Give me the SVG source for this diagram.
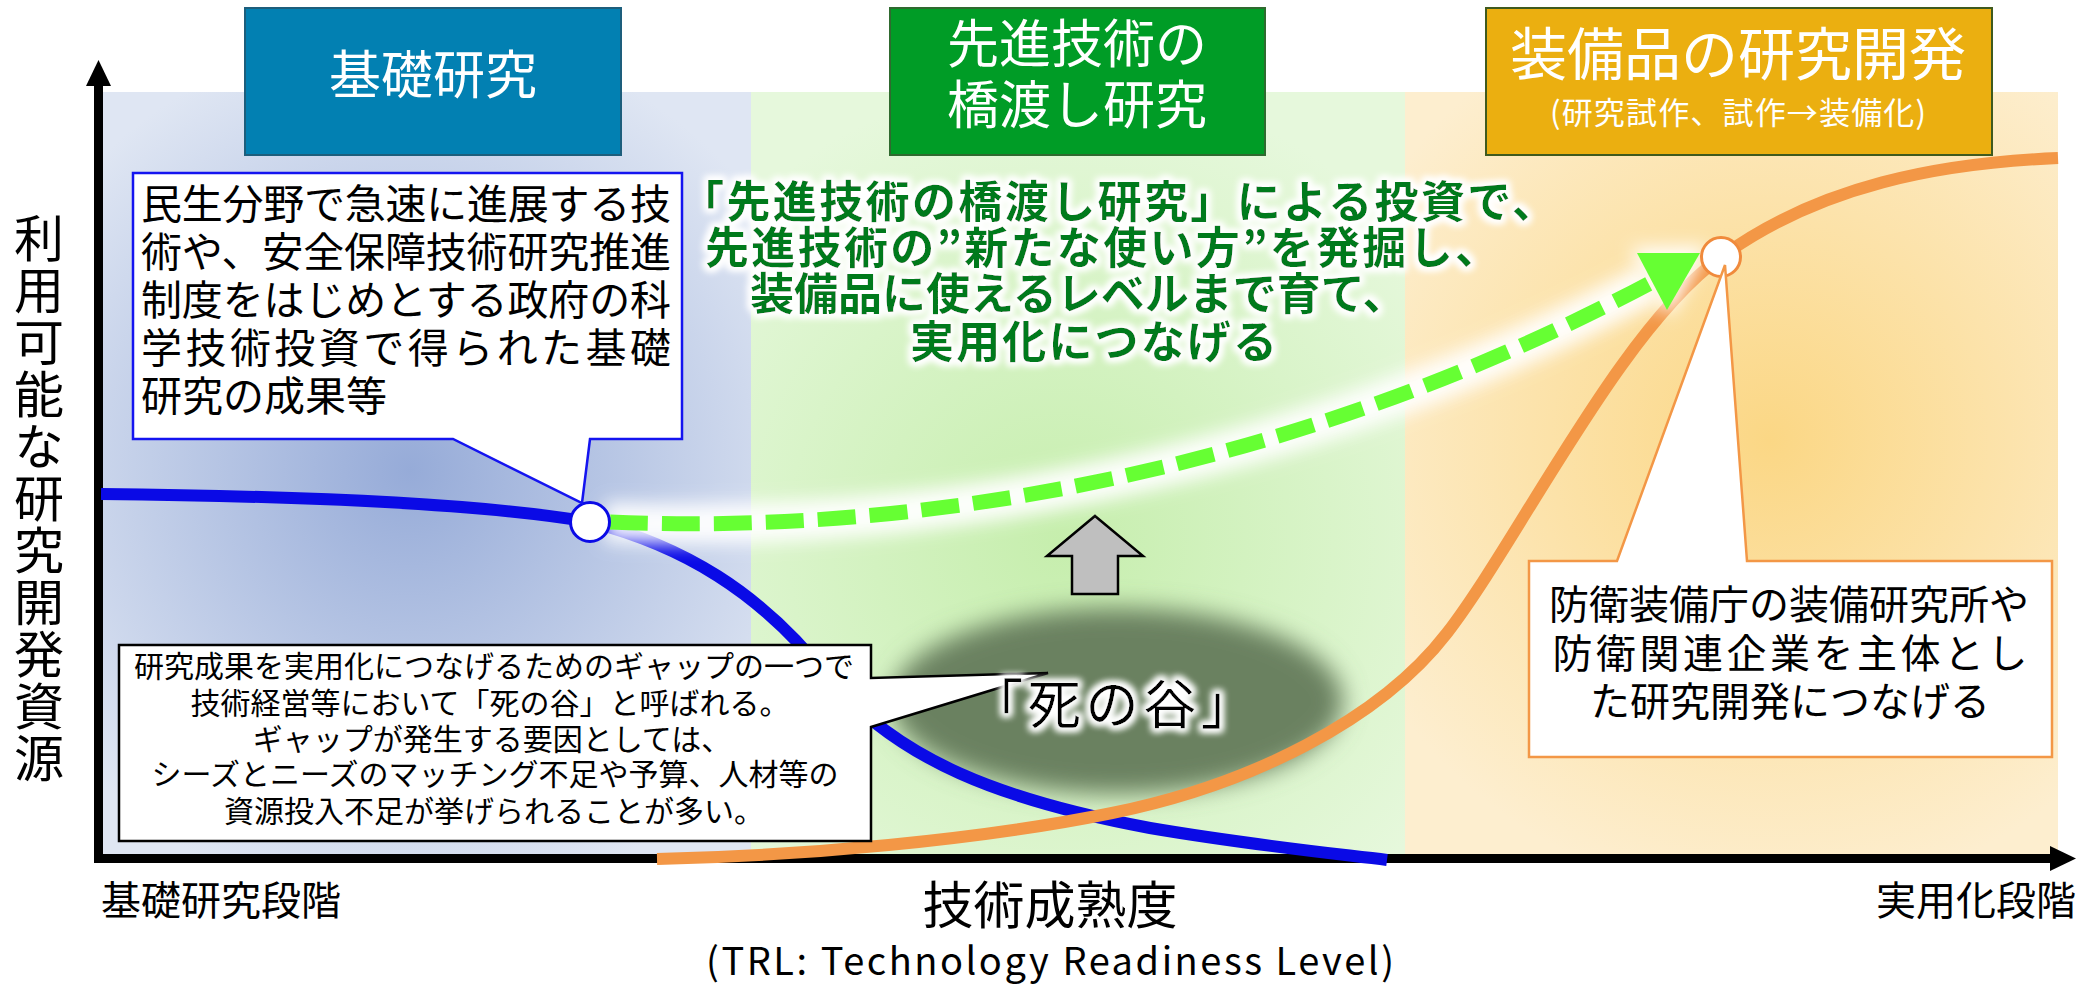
<svg xmlns="http://www.w3.org/2000/svg" width="2093" height="987" viewBox="0 0 2093 987">
<defs>
<style>
.jp{font-family:'Noto Sans CJK JP','Noto Sans',sans-serif;}
.wt{fill:#fff;}
.bk{fill:#000;}
.gt{fill:#007a1c;font-weight:700;font-size:44px;}
</style>
<radialGradient id="gBlue" gradientUnits="userSpaceOnUse" cx="410" cy="470" r="440">
<stop offset="0" stop-color="#96abd8"/><stop offset="1" stop-color="#dfe6f3"/>
</radialGradient>
<radialGradient id="gGreen" gradientUnits="userSpaceOnUse" cx="1060" cy="540" r="460">
<stop offset="0" stop-color="#c6eead"/><stop offset="1" stop-color="#e6f8dc"/>
</radialGradient>
<radialGradient id="gOrange" gradientUnits="userSpaceOnUse" cx="1770" cy="440" r="460">
<stop offset="0" stop-color="#fbd785"/><stop offset="1" stop-color="#fdeecf"/>
</radialGradient>
<filter id="blurBig" x="-30%" y="-30%" width="160%" height="160%"><feGaussianBlur stdDeviation="12"/></filter>
<filter id="blurGlow" x="-20%" y="-50%" width="140%" height="200%"><feGaussianBlur stdDeviation="9"/></filter>
<filter id="textGlow" x="-10%" y="-40%" width="120%" height="180%">
<feMorphology in="SourceAlpha" operator="dilate" radius="2.5" result="d"/>
<feGaussianBlur in="d" stdDeviation="3.5" result="b"/>
<feFlood flood-color="#ffffff"/>
<feComposite in2="b" operator="in" result="w"/>
<feMerge><feMergeNode in="w"/><feMergeNode in="w"/><feMergeNode in="SourceGraphic"/></feMerge>
</filter>
</defs>

<g id="panels">
<rect x="103" y="92" width="648" height="762" fill="url(#gBlue)"/>
<rect x="751" y="92" width="654" height="762" fill="url(#gGreen)"/>
<rect x="1405" y="92" width="653" height="762" fill="url(#gOrange)"/>
</g>

<g id="axes">
<line x1="98.5" y1="84" x2="98.5" y2="862" stroke="#000" stroke-width="9"/>
<polygon points="86,86 98.5,60 111,86" fill="#000"/>
<line x1="94" y1="858.5" x2="2052" y2="858.5" stroke="#000" stroke-width="9"/>
<polygon points="2050,846 2076,858.5 2050,871" fill="#000"/>
</g>

<g id="valley">
<ellipse cx="1117" cy="701" rx="226" ry="93" fill="#6b8161" filter="url(#blurBig)"/>
<polygon points="1095,516 1143,556 1118,556 1118,594 1072,594 1072,556 1047,556" fill="#bfbfbf" stroke="#000" stroke-width="2.5" stroke-linejoin="miter"/>
</g>

<g id="connectors" fill="none">
<path d="M101,494 C300,496 480,503 590,522 C680,545 760,590 830,680 C900,760 1000,800 1150,828 C1250,845 1330,853 1387,860" stroke="#0a0ae6" stroke-width="12"/>
<path d="M657,859 C800,856 980,840 1112,813 C1250,785 1380,720 1447,633 C1520,538 1620,330 1721,257 C1820,185 1940,163 2058,158" stroke="#f39746" stroke-width="12"/>
<path d="M605,522 C900,535 1280,480 1652,282" stroke="#ffffff" stroke-width="40" filter="url(#blurGlow)" opacity="0.95"/>
<polygon points="1630,248 1708,246 1670,318" fill="#ffffff" filter="url(#blurGlow)"/>
<path d="M610,522 C900,535 1280,480 1652,282" stroke="#66ff33" stroke-width="15" stroke-dasharray="38,14"/>
<polygon points="1637,253 1700,253 1667,310" fill="#66ff33"/>
</g>

<g id="points">
<circle cx="590" cy="522" r="19.5" fill="#fff" stroke="#0a0ae6" stroke-width="3"/>
<circle cx="1721" cy="257" r="19.5" fill="#fff" stroke="#f08a3c" stroke-width="3"/>
</g>

<g id="box-basic">
<rect x="245" y="8" width="376" height="147" fill="#0280b2" stroke="#1d5e7c" stroke-width="2"/>
<text class="jp wt" x="433" y="94" font-size="52" text-anchor="middle">基礎研究</text>
</g>

<g id="box-bridge">
<rect x="890" y="8" width="375" height="147" fill="#009c26" stroke="#2f6a2f" stroke-width="2"/>
<text class="jp wt" x="1077" y="63" font-size="52" text-anchor="middle">先進技術の</text>
<text class="jp wt" x="1077" y="124" font-size="52" text-anchor="middle">橋渡し研究</text>
</g>

<g id="box-equip">
<rect x="1486" y="8" width="506" height="147" fill="#ebaf10" stroke="#3f5a1e" stroke-width="2"/>
<text class="jp wt" x="1738" y="75" font-size="57" text-anchor="middle">装備品の研究開発</text>
<text class="jp wt" x="1738" y="124" font-size="31" text-anchor="middle" textLength="376">(研究試作、試作→装備化)</text>
</g>

<g id="callout-basic">
<path d="M133,173 H682 V439 H590 L582,503 L453,439 H133 Z" fill="#fff" stroke="#1414f0" stroke-width="2.5" stroke-linejoin="miter"/>
<g class="jp bk" font-size="41">
<text x="141" y="219" textLength="530">民生分野で急速に進展する技</text>
<text x="141" y="267" textLength="530">術や、安全保障技術研究推進</text>
<text x="141" y="315" textLength="530">制度をはじめとする政府の科</text>
<text x="141" y="363" textLength="530">学技術投資で得られた基礎</text>
<text x="141" y="411">研究の成果等</text>
</g>
</g>

<g id="bridge-message" filter="url(#textGlow)">
<text class="jp gt" x="680" y="218" textLength="876">「先進技術の橋渡し研究」による投資で、</text>
<text class="jp gt" x="705" y="264" textLength="794">先進技術の”新たな使い方”を発掘し、</text>
<text class="jp gt" x="750" y="310">装備品に使えるレベルまで育て、</text>
<text class="jp gt" x="910" y="358" textLength="367">実用化につなげる</text>
</g>

<g id="callout-gap">
<path d="M119,645 H871 V678 L1048,673 L871,727 V841 H119 Z" fill="#fff" stroke="#000" stroke-width="2.5" stroke-linejoin="miter"/>
<g class="jp bk" font-size="30" text-anchor="middle">
<text x="494" y="677">研究成果を実用化につなげるためのギャップの一つで</text>
<text x="490" y="714">技術経営等において「死の谷」と呼ばれる。</text>
<text x="492" y="750">ギャップが発生する要因としては、</text>
<text x="495" y="785">シーズとニーズのマッチング不足や予算、人材等の</text>
<text x="494" y="822">資源投入不足が挙げられることが多い。</text>
</g>
</g>

<g id="valley-label" filter="url(#textGlow)">
<text class="jp bk" x="1112" y="724" font-size="53" text-anchor="middle" textLength="284">「死の谷」</text>
</g>

<g id="callout-equip">
<path d="M1529,561 H1617 L1725,265 L1747,561 H2052 V757 H1529 Z" fill="#fff" stroke="#f39746" stroke-width="2.5" stroke-linejoin="miter"/>
<g class="jp bk" font-size="40" text-anchor="middle">
<text x="1789" y="619">防衛装備庁の装備研究所や</text>
<text x="1790" y="668" textLength="475">防衛関連企業を主体とし</text>
<text x="1790" y="716">た研究開発につなげる</text>
</g>
</g>

<g id="y-label">
<text class="jp bk" x="39" y="213" font-size="50" style="writing-mode:vertical-rl;letter-spacing:2px">利用可能な研究開発資源</text>
</g>

<g id="x-labels" class="jp bk">
<text x="101" y="915" font-size="40">基礎研究段階</text>
<text x="1050" y="924" font-size="51" text-anchor="middle">技術成熟度</text>
<text x="1050" y="975" font-size="38" text-anchor="middle" textLength="688">(TRL: Technology Readiness Level)</text>
<text x="2076" y="915" font-size="40" text-anchor="end">実用化段階</text>
</g>
</svg>
